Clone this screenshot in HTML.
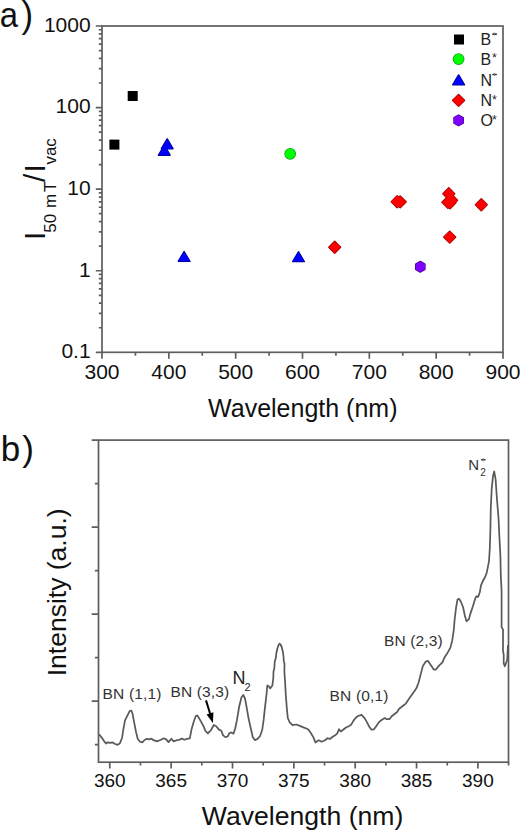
<!DOCTYPE html>
<html><head><meta charset="utf-8"><style>
html,body{margin:0;padding:0;background:#fff;}
body{width:520px;height:832px;overflow:hidden;}
svg{display:block;}
text{font-family:"Liberation Sans",sans-serif;fill:#111;}
.t21{font-size:21px;}
.t19{font-size:19px;}
.t25{font-size:25px;}
.t27{font-size:26.6px;}
.t26{font-size:26.5px;}
.t35{font-size:35px;}
.t16{font-size:16px;fill:#222;}
.t15{font-size:15px;fill:#333;}
.bn{font-size:15.5px;letter-spacing:0.15px;fill:#333;}
.t18{font-size:18px;fill:#222;}
.yl{fill:#111;}
.ast{font-size:12.5px;fill:#2a2a2a;}
</style></head><body>
<svg width="520" height="832" viewBox="0 0 520 832">
<rect x="102.0" y="26.0" width="401.0" height="326.3" fill="none" stroke="#5e5e5e" stroke-width="1.7"/>
<path d="M95.80 352.30H102.0M98.80 327.74H102.0M98.80 313.38H102.0M98.80 303.19H102.0M98.80 295.28H102.0M98.80 288.82H102.0M98.80 283.36H102.0M98.80 278.63H102.0M98.80 274.46H102.0M95.80 270.73H102.0M98.80 246.17H102.0M98.80 231.80H102.0M98.80 221.61H102.0M98.80 213.71H102.0M98.80 207.25H102.0M98.80 201.79H102.0M98.80 197.06H102.0M98.80 192.88H102.0M95.80 189.15H102.0M98.80 164.59H102.0M98.80 150.23H102.0M98.80 140.04H102.0M98.80 132.13H102.0M98.80 125.67H102.0M98.80 120.21H102.0M98.80 115.48H102.0M98.80 111.31H102.0M95.80 107.58H102.0M98.80 83.02H102.0M98.80 68.65H102.0M98.80 58.46H102.0M98.80 50.56H102.0M98.80 44.10H102.0M98.80 38.64H102.0M98.80 33.91H102.0M98.80 29.73H102.0M95.80 26.00H102.0M102.00 352.3V358.80M168.83 352.3V358.80M235.67 352.3V358.80M302.50 352.3V358.80M369.33 352.3V358.80M436.17 352.3V358.80M503.00 352.3V358.80M135.42 352.3V355.80M202.25 352.3V355.80M269.08 352.3V355.80M335.92 352.3V355.80M402.75 352.3V355.80M469.58 352.3V355.80" stroke="#5e5e5e" stroke-width="1.7" fill="none"/>
<text x="90.6" y="358.10" text-anchor="end" class="t21">0.1</text>
<text x="90.6" y="276.53" text-anchor="end" class="t21">1</text>
<text x="90.6" y="194.95" text-anchor="end" class="t21">10</text>
<text x="90.6" y="113.38" text-anchor="end" class="t21">100</text>
<text x="90.6" y="31.80" text-anchor="end" class="t21">1000</text>
<text x="102.00" y="379.2" text-anchor="middle" class="t21">300</text>
<text x="168.83" y="379.2" text-anchor="middle" class="t21">400</text>
<text x="235.67" y="379.2" text-anchor="middle" class="t21">500</text>
<text x="302.50" y="379.2" text-anchor="middle" class="t21">600</text>
<text x="369.33" y="379.2" text-anchor="middle" class="t21">700</text>
<text x="436.17" y="379.2" text-anchor="middle" class="t21">800</text>
<text x="503.00" y="379.2" text-anchor="middle" class="t21">900</text>
<text x="302.8" y="417" text-anchor="middle" class="t25">Wavelength (nm)</text>
<g transform="translate(45.3,240.0) rotate(-90)"><text x="0" y="0" class="yl"><tspan font-size="29.5">I</tspan><tspan font-size="17" dy="10.5" dx="-1">50</tspan><tspan font-size="17" dx="1.2"> m</tspan><tspan font-size="17" dx="1.8">T</tspan><tspan font-size="29.5" dy="-10.5" dx="-0.5">/</tspan><tspan font-size="29.5" dx="1.4">I</tspan><tspan font-size="17" dy="10.5" dx="-0.3">vac</tspan></text></g>
<text x="-0.3" y="26.8" class="t35" transform="scale(0.94,1)">a<tspan dx="3.7" style="font-size:37px">)</tspan></text>
<circle cx="290.2" cy="153.8" r="5.1" fill="#119911" stroke="#119911" stroke-width="1.5" stroke-linejoin="round"/>
<path d="M167.20 138.95L173.00 148.65L161.40 148.65Z" fill="#000088" stroke="#000088" stroke-width="1.5" stroke-linejoin="round"/>
<path d="M164.30 145.45L170.10 155.15L158.50 155.15Z" fill="#000088" stroke="#000088" stroke-width="1.5" stroke-linejoin="round"/>
<path d="M184.10 251.65L189.90 261.35L178.30 261.35Z" fill="#000088" stroke="#000088" stroke-width="1.5" stroke-linejoin="round"/>
<path d="M298.50 251.85L304.30 261.55L292.70 261.55Z" fill="#000088" stroke="#000088" stroke-width="1.5" stroke-linejoin="round"/>
<path d="M334.70 241.40L340.60 247.30L334.70 253.20L328.80 247.30Z" fill="#a00000" stroke="#a00000" stroke-width="1.5" stroke-linejoin="round"/>
<path d="M397.20 195.80L403.10 201.70L397.20 207.60L391.30 201.70Z" fill="#a00000" stroke="#a00000" stroke-width="1.5" stroke-linejoin="round"/>
<path d="M400.20 196.00L406.10 201.90L400.20 207.80L394.30 201.90Z" fill="#a00000" stroke="#a00000" stroke-width="1.5" stroke-linejoin="round"/>
<path d="M448.80 187.80L454.70 193.70L448.80 199.60L442.90 193.70Z" fill="#a00000" stroke="#a00000" stroke-width="1.5" stroke-linejoin="round"/>
<path d="M447.90 196.40L453.80 202.30L447.90 208.20L442.00 202.30Z" fill="#a00000" stroke="#a00000" stroke-width="1.5" stroke-linejoin="round"/>
<path d="M451.60 194.40L457.50 200.30L451.60 206.20L445.70 200.30Z" fill="#a00000" stroke="#a00000" stroke-width="1.5" stroke-linejoin="round"/>
<path d="M450.00 196.80L455.90 202.70L450.00 208.60L444.10 202.70Z" fill="#a00000" stroke="#a00000" stroke-width="1.5" stroke-linejoin="round"/>
<path d="M449.70 231.20L455.60 237.10L449.70 243.00L443.80 237.10Z" fill="#a00000" stroke="#a00000" stroke-width="1.5" stroke-linejoin="round"/>
<path d="M481.30 198.90L487.20 204.80L481.30 210.70L475.40 204.80Z" fill="#a00000" stroke="#a00000" stroke-width="1.5" stroke-linejoin="round"/>
<polygon points="420.30,261.50 424.89,264.15 424.89,269.45 420.30,272.10 415.71,269.45 415.71,264.15" fill="#4a0095" stroke="#4a0095" stroke-width="1.5" stroke-linejoin="round"/>
<circle cx="458.6" cy="59.1" r="5.1" fill="#119911" stroke="#119911" stroke-width="1.5" stroke-linejoin="round"/>
<path d="M458.60 74.95L464.50 84.85L452.70 84.85Z" fill="#000088" stroke="#000088" stroke-width="1.5" stroke-linejoin="round"/>
<path d="M458.60 94.50L464.50 100.40L458.60 106.30L452.70 100.40Z" fill="#a00000" stroke="#a00000" stroke-width="1.5" stroke-linejoin="round"/>
<polygon points="458.60,115.10 463.19,117.75 463.19,123.05 458.60,125.70 454.01,123.05 454.01,117.75" fill="#4a0095" stroke="#4a0095" stroke-width="1.5" stroke-linejoin="round"/>
<rect x="127.70" y="91.00" width="10" height="10" fill="#000"/>
<rect x="109.40" y="139.60" width="10" height="10" fill="#000"/>
<circle cx="290.2" cy="153.8" r="5.1" fill="#00ff00"/>
<path d="M167.20 138.95L173.00 148.65L161.40 148.65Z" fill="#0000ff"/>
<path d="M164.30 145.45L170.10 155.15L158.50 155.15Z" fill="#0000ff"/>
<path d="M184.10 251.65L189.90 261.35L178.30 261.35Z" fill="#0000ff"/>
<path d="M298.50 251.85L304.30 261.55L292.70 261.55Z" fill="#0000ff"/>
<path d="M334.70 241.40L340.60 247.30L334.70 253.20L328.80 247.30Z" fill="#ff0000"/>
<path d="M397.20 195.80L403.10 201.70L397.20 207.60L391.30 201.70Z" fill="#ff0000"/>
<path d="M400.20 196.00L406.10 201.90L400.20 207.80L394.30 201.90Z" fill="#ff0000"/>
<path d="M448.80 187.80L454.70 193.70L448.80 199.60L442.90 193.70Z" fill="#ff0000"/>
<path d="M447.90 196.40L453.80 202.30L447.90 208.20L442.00 202.30Z" fill="#ff0000"/>
<path d="M451.60 194.40L457.50 200.30L451.60 206.20L445.70 200.30Z" fill="#ff0000"/>
<path d="M450.00 196.80L455.90 202.70L450.00 208.60L444.10 202.70Z" fill="#ff0000"/>
<path d="M449.70 231.20L455.60 237.10L449.70 243.00L443.80 237.10Z" fill="#ff0000"/>
<path d="M481.30 198.90L487.20 204.80L481.30 210.70L475.40 204.80Z" fill="#ff0000"/>
<polygon points="420.30,261.50 424.89,264.15 424.89,269.45 420.30,272.10 415.71,269.45 415.71,264.15" fill="#7f00ff"/>
<rect x="454.00" y="34.50" width="10" height="10" fill="#000"/>
<circle cx="458.6" cy="59.1" r="5.1" fill="#00ff00"/>
<path d="M458.60 74.95L464.50 84.85L452.70 84.85Z" fill="#0000ff"/>
<path d="M458.60 94.50L464.50 100.40L458.60 106.30L452.70 100.40Z" fill="#ff0000"/>
<polygon points="458.60,115.10 463.19,117.75 463.19,123.05 458.60,125.70 454.01,123.05 454.01,117.75" fill="#7f00ff"/>
<text x="480.6" y="45.10" class="t16">B</text>
<rect x="492.20" y="33.25" width="4.8" height="1.7" rx="0.8" fill="#2a2a2a"/>
<rect x="494.10" y="32.50" width="1.0" height="3.2" fill="#888"/>
<text x="480.6" y="64.70" class="t16">B</text>
<text x="492.00" y="62.30" class="ast">*</text>
<text x="480.6" y="85.50" class="t16">N</text>
<rect x="492.20" y="73.65" width="4.8" height="1.7" rx="0.8" fill="#2a2a2a"/>
<rect x="494.10" y="72.90" width="1.0" height="3.2" fill="#888"/>
<text x="480.6" y="106.00" class="t16">N</text>
<text x="492.00" y="103.60" class="ast">*</text>
<text x="480.6" y="126.00" class="t16">O</text>
<text x="492.00" y="123.60" class="ast">*</text>
<rect x="98.5" y="440.1" width="410.0" height="322.1" fill="none" stroke="#5e5e5e" stroke-width="1.7"/>
<path d="M91.70 440.10H98.5M94.90 483.60H98.5M91.70 527.10H98.5M94.90 570.60H98.5M91.70 614.10H98.5M94.90 657.60H98.5M91.70 701.10H98.5M94.90 744.60H98.5M109.80 762.2V768.40M171.15 762.2V768.40M232.50 762.2V768.40M293.85 762.2V768.40M355.20 762.2V768.40M416.55 762.2V768.40M477.90 762.2V768.40M140.47 762.2V765.40M201.82 762.2V765.40M263.18 762.2V765.40M324.52 762.2V765.40M385.88 762.2V765.40M447.23 762.2V765.40M508.57 762.2V765.40" stroke="#5e5e5e" stroke-width="1.7" fill="none"/>
<text x="109.80" y="786.8" text-anchor="middle" class="t19">360</text>
<text x="171.15" y="786.8" text-anchor="middle" class="t19">365</text>
<text x="232.50" y="786.8" text-anchor="middle" class="t19">370</text>
<text x="293.85" y="786.8" text-anchor="middle" class="t19">375</text>
<text x="355.20" y="786.8" text-anchor="middle" class="t19">380</text>
<text x="416.55" y="786.8" text-anchor="middle" class="t19">385</text>
<text x="477.90" y="786.8" text-anchor="middle" class="t19">390</text>
<text x="302.6" y="825.4" text-anchor="middle" class="t27">Wavelength (nm)</text>
<text transform="translate(65.6,676.3) rotate(-90)" class="t26">Intensity (a.u.)</text>
<text x="0.8" y="460.8" class="t35">b<tspan dx="2">)</tspan></text>
<path d="M99.0 734.2 L101.3 737.1 L103.7 740.6 L106.0 743.5 L107.7 742.3 L110.0 742.9 L112.3 742.3 L115.2 744.0 L117.5 744.8 L119.8 743.5 L122.1 737.7 L123.3 729.6 L125.0 720.4 L127.3 715.8 L129.6 711.2 L131.3 710.6 L132.5 713.5 L134.2 722.7 L136.0 731.9 L137.7 738.8 L140.0 741.7 L142.3 742.3 L144.6 740.0 L146.9 738.8 L149.2 739.4 L151.5 738.6 L153.5 740.2 L156.9 741.4 L160.4 740.0 L163.8 738.3 L166.2 739.4 L168.5 742.1 L171.3 738.8 L173.7 741.4 L176.5 740.2 L179.4 739.8 L181.7 738.6 L184.6 739.8 L186.9 738.8 L189.8 738.3 L191.5 729.6 L193.8 721.5 L195.9 715.8 L197.3 715.5 L199.0 718.1 L201.3 722.1 L203.7 726.7 L205.4 730.8 L207.9 733.4 L211.0 730.2 L213.8 725.0 L216.2 726.2 L219.0 729.6 L221.3 730.8 L223.1 735.4 L225.4 737.1 L227.7 736.5 L229.4 733.1 L231.2 732.5 L233.5 733.7 L235.2 728.5 L236.9 720.4 L239.2 706.5 L241.5 697.3 L243.3 695.0 L245.0 698.5 L246.7 707.7 L248.5 718.1 L250.8 728.5 L252.8 737.3 L254.8 740.1 L257.5 738.9 L260.1 736.0 L262.3 729.5 L263.7 719.4 L265.1 706.4 L266.6 693.5 L267.3 685.5 L268.8 686.3 L270.2 688.4 L272.4 685.5 L273.3 678.0 L273.5 671.5 L274.3 668.5 L274.7 662.0 L275.8 658.0 L276.3 653.5 L277.4 648.5 L278.6 645.0 L279.5 643.6 L280.5 644.5 L281.7 647.0 L283.0 652.5 L283.5 656.5 L283.8 661.5 L284.5 663.5 L284.4 672.0 L285.0 680.5 L285.8 694.9 L286.8 707.9 L287.8 718.0 L289.7 722.3 L292.5 725.2 L296.2 724.5 L299.8 725.9 L303.4 727.4 L307.0 728.8 L308.5 729.8 L311.3 733.8 L313.7 737.9 L315.4 742.5 L317.1 741.3 L318.8 740.2 L321.7 741.7 L324.6 740.5 L327.5 738.2 L329.8 739.0 L332.7 736.7 L335.6 735.0 L337.3 733.3 L339.0 729.2 L340.8 731.5 L343.1 729.8 L346.0 727.5 L348.8 726.3 L351.2 724.6 L353.5 720.6 L355.8 717.7 L358.1 716.0 L361.5 714.8 L364.6 718.1 L366.9 722.1 L369.2 726.7 L371.5 729.6 L373.8 729.4 L376.2 726.2 L379.0 722.1 L381.9 719.8 L384.8 718.1 L387.1 719.2 L389.4 719.2 L391.7 716.3 L394.6 714.0 L396.9 712.3 L399.2 708.8 L402.1 706.5 L404.4 704.8 L406.2 703.1 L408.5 699.6 L411.3 695.6 L414.2 691.5 L416.5 688.1 L418.6 682.5 L420.8 673.9 L422.9 665.9 L425.8 661.6 L428.0 660.9 L430.9 665.2 L433.8 669.5 L435.9 669.5 L438.8 665.9 L442.4 662.3 L444.6 657.3 L447.5 652.9 L450.3 647.9 L452.2 640.7 L453.7 630.6 L454.7 619.0 L456.1 607.5 L457.5 599.6 L459.0 598.8 L460.8 601.5 L463.1 607.3 L464.8 615.4 L466.5 621.2 L468.8 619.4 L470.6 613.1 L472.9 606.2 L475.2 598.7 L476.3 596.3 L478.1 596.9 L479.8 592.3 L481.0 585.4 L482.7 581.3 L485.0 577.3 L486.7 572.7 L487.9 566.9 L489.0 561.2 L489.8 548.5 L490.4 529.2 L490.8 508.1 L491.7 488.8 L493.1 475.4 L494.2 471.5 L495.6 479.2 L496.9 498.5 L498.5 517.7 L499.4 536.9 L500.4 556.2 L500.8 575.4 L501.6 591.5 L501.6 627.2 L503.0 629.4 L503.0 651.0 L503.7 654.6 L503.7 663.2 L504.8 666.3 L507.2 660.0 L508.0 645.0" fill="none" stroke="#5a5a5a" stroke-width="1.75" stroke-linejoin="round"/>
<text x="102.6" y="698.8" class="bn">BN (1,1)</text>
<text x="170.5" y="696.5" class="bn">BN (3,3)</text>
<text x="329.6" y="701.0" class="bn">BN (0,1)</text>
<text x="383.9" y="646.2" class="bn">BN (2,3)</text>
<text x="232.6" y="683.8" class="t18">N<tspan font-size="11" dy="6.9" dx="-1">2</tspan></text>
<text x="468.3" y="470.4" class="t15">N<tspan font-size="10" dy="5.4" dx="1">2</tspan></text>
<rect x="480.9" y="458.9" width="4.8" height="1.7" rx="0.8" fill="#2a2a2a"/>
<rect x="482.8" y="458.1" width="1.0" height="3.2" fill="#888"/>
<path d="M206 700.4L210.2 714" stroke="#000" stroke-width="2" fill="none"/>
<path d="M212.9 722.9L206.6 714.4L213.4 712.3Z" fill="#000"/>
</svg>
</body></html>
